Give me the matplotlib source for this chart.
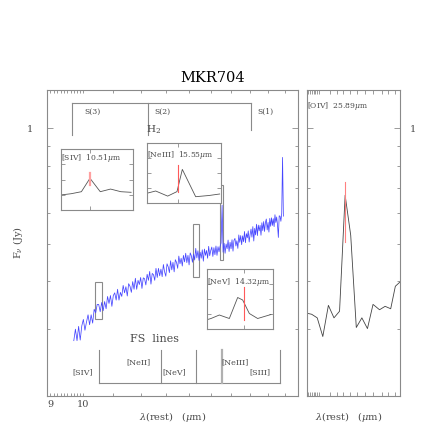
import matplotlib
matplotlib.use('Agg')
import matplotlib.pyplot as plt
import matplotlib.ticker as ticker
from matplotlib.patches import Rectangle

plt.rcParams['font.family'] = ['DejaVu Serif']
plt.rcParams['mathtext.fontset'] = 'dejavuserif'

W = H = 436          # figure size in pixels
GREY = '#8a8a8a'
TEXT = '#4a4a4a'
BLUE = '#4646ff'
RED = '#ff5a5a'

# ── Main spectrum (rest wavelength in micron, flux in Jy) ────────────────────
wave = [9.70, 9.75, 9.80, 9.85, 9.90, 9.95, 10.00, 10.05, 10.10, 10.15,
        10.20, 10.25, 10.30, 10.35, 10.40, 10.45, 10.50, 10.55, 10.60, 10.65,
        10.70, 10.75, 10.80, 10.85, 10.90, 10.95, 11.00, 11.05, 11.10, 11.15,
        11.20, 11.25, 11.30, 11.35, 11.40, 11.45, 11.50, 11.55, 11.60, 11.65,
        11.70, 11.75, 11.80, 11.85, 11.90, 11.95, 12.00, 12.05, 12.10, 12.15,
        12.20, 12.25, 12.30, 12.35, 12.40, 12.45, 12.50, 12.55, 12.60, 12.65,
        12.70, 12.75, 12.80, 12.85, 12.90, 12.95, 13.00, 13.05, 13.10, 13.15,
        13.20, 13.25, 13.30, 13.35, 13.40, 13.45, 13.50, 13.55, 13.60, 13.65,
        13.70, 13.75, 13.80, 13.85, 13.90, 13.95, 14.00, 14.05, 14.10, 14.15,
        14.20, 14.25, 14.30, 14.35, 14.40, 14.45, 14.50, 14.55, 14.60, 14.65,
        14.70, 14.75, 14.80, 14.85, 14.90, 14.95, 15.00, 15.05, 15.10, 15.15,
        15.20, 15.25, 15.30, 15.35, 15.40, 15.45, 15.50, 15.55, 15.60, 15.65,
        15.70, 15.75, 15.80, 15.85, 15.90, 15.95, 16.00, 16.05, 16.10, 16.15,
        16.20, 16.25, 16.30, 16.35, 16.40, 16.45, 16.50, 16.55, 16.60, 16.65,
        16.70, 16.75, 16.80, 16.85, 16.90, 16.95, 17.00, 17.05, 17.10, 17.15,
        17.20, 17.25, 17.30, 17.35, 17.40, 17.45, 17.50, 17.55, 17.60, 17.65,
        17.70, 17.75, 17.80, 17.85, 17.90, 17.95, 18.00, 18.05, 18.10, 18.15,
        18.20, 18.25, 18.30, 18.35, 18.40, 18.45, 18.50, 18.55, 18.60, 18.65,
        18.70, 18.75, 18.80, 18.85, 18.90]
flux = [0.279, 0.299, 0.279, 0.304, 0.280, 0.305, 0.317, 0.297, 0.312, 0.326,
        0.307, 0.326, 0.310, 0.337, 0.330, 0.347, 0.347, 0.332, 0.351, 0.334,
        0.353, 0.338, 0.364, 0.349, 0.366, 0.343, 0.366, 0.372, 0.356, 0.380,
        0.356, 0.373, 0.364, 0.389, 0.372, 0.386, 0.365, 0.393, 0.387, 0.373,
        0.398, 0.380, 0.406, 0.380, 0.401, 0.391, 0.408, 0.382, 0.407, 0.405,
        0.390, 0.416, 0.401, 0.423, 0.392, 0.418, 0.415, 0.401, 0.431, 0.408,
        0.431, 0.412, 0.429, 0.410, 0.441, 0.422, 0.411, 0.443, 0.435, 0.420,
        0.451, 0.427, 0.447, 0.422, 0.454, 0.447, 0.431, 0.464, 0.443, 0.458,
        0.437, 0.466, 0.448, 0.472, 0.446, 0.466, 0.440, 0.473, 0.465, 0.447,
        0.470, 0.453, 0.486, 0.459, 0.479, 0.452, 0.475, 0.458, 0.482, 0.450,
        0.484, 0.466, 0.480, 0.458, 0.492, 0.465, 0.480, 0.490, 0.463, 0.488,
        0.468, 0.493, 0.466, 0.491, 0.476, 0.492, 0.502, 0.630, 0.475, 0.501,
        0.472, 0.499, 0.485, 0.511, 0.477, 0.504, 0.485, 0.512, 0.478, 0.510,
        0.516, 0.493, 0.509, 0.486, 0.527, 0.504, 0.525, 0.497, 0.524, 0.506,
        0.538, 0.503, 0.531, 0.518, 0.540, 0.505, 0.528, 0.546, 0.520, 0.554,
        0.508, 0.548, 0.527, 0.562, 0.525, 0.559, 0.540, 0.558, 0.526, 0.567,
        0.541, 0.571, 0.538, 0.568, 0.580, 0.543, 0.568, 0.536, 0.582, 0.555,
        0.584, 0.558, 0.581, 0.554, 0.595, 0.568, 0.587, 0.559, 0.519, 0.591,
        0.590, 0.572, 0.600, 0.840, 0.590]

# line windows marked on the spectrum: (lambda0, lambda1, flux0, flux1)
box_siv = (10.37, 10.60, 0.317, 0.396)
box_nev = (14.17, 14.44, 0.408, 0.562)
box_neiii = (15.46, 15.61, 0.452, 0.711)

# H2 rotational lines and fine-structure lines
h2_names = ['S(3)', 'S(2)', 'S(1)']
h2_wave = [9.66, 12.28, 17.03]
fs_names = ['[SIV]', '[NeII]', '[NeV]', '[NeIII]', '[SIII]']
fs_wave = [10.51, 12.81, 14.32, 15.55, 18.71]

# ── Line profile insets ──────────────────────────────────────────────────────
siv_wave = [10.34, 10.40, 10.46, 10.51, 10.57, 10.63, 10.69, 10.75]
siv_flux = [0.3374, 0.3380, 0.3390, 0.3456, 0.3390, 0.3403, 0.3390, 0.3387]
neiii_wave = [15.31, 15.38, 15.47, 15.54, 15.58, 15.68, 15.78, 15.86]
neiii_flux = [0.482, 0.490, 0.473, 0.488, 0.562, 0.471, 0.475, 0.480]
nev_wave = [14.10, 14.12, 14.17, 14.23, 14.28, 14.31, 14.35, 14.40, 14.44, 14.48]
nev_flux = [0.419, 0.421, 0.428, 0.421, 0.463, 0.458, 0.431, 0.421, 0.425, 0.429]

# [OIV] profile (right panel)
oiv_wave = [25.48, 25.53, 25.59, 25.65, 25.71, 25.77, 25.83, 25.89, 25.95,
            26.01, 26.07, 26.13, 26.19, 26.26, 26.32, 26.38, 26.43, 26.48]
oiv_flux = [0.329, 0.327, 0.320, 0.286, 0.345, 0.320, 0.333, 0.669, 0.526,
            0.302, 0.320, 0.300, 0.347, 0.336, 0.343, 0.338, 0.387, 0.397]


def px_rect(x0, y0, x1, y1):
    """Pixel box (top-left origin) -> figure fraction rect."""
    return [x0 / W, 1 - y1 / H, (x1 - x0) / W, (y1 - y0) / H]


def style(ax, major_len=4, minor_len=2.5):
    for s in ax.spines.values():
        s.set_edgecolor(GREY)
        s.set_linewidth(0.8)
    ax.tick_params(which='both', direction='in', top=True, right=True,
                   color=GREY, labelcolor=TEXT, width=0.6, labelsize=7)
    ax.tick_params(which='major', length=major_len)
    ax.tick_params(which='minor', length=minor_len)


fig = plt.figure(figsize=(W / 100, H / 100), dpi=100)

# ── Main panel ───────────────────────────────────────────────────────────────
ax = fig.add_axes(px_rect(47, 90, 298, 396))
ax.set_xscale('log')
ax.set_yscale('log')
ax.set_xlim(8.907, 19.8)
ax.set_ylim(0.2, 1.26)
style(ax)
ax.xaxis.set_major_locator(ticker.FixedLocator([9, 10]))
ax.xaxis.set_major_formatter(ticker.FixedFormatter(['9', '10']))
ax.xaxis.set_minor_locator(ticker.FixedLocator(
    [9.1, 9.2, 9.3, 9.4, 9.5, 9.6, 9.7, 9.8, 9.9,
     11, 12, 13, 14, 15, 16, 17, 18, 19]))
ax.xaxis.set_minor_formatter(ticker.NullFormatter())
ax.yaxis.set_major_locator(ticker.FixedLocator([1]))
ax.yaxis.set_major_formatter(ticker.FixedFormatter(['1']))
ax.yaxis.set_minor_locator(ticker.FixedLocator(
    [0.2, 0.3, 0.4, 0.5, 0.6, 0.7, 0.8, 0.9]))
ax.yaxis.set_minor_formatter(ticker.NullFormatter())
ax.tick_params(axis='x', which='major', pad=3)
ax.tick_params(axis='y', which='major', pad=10)
ax.tick_params(axis='x', which='major', length=2.5)

ax.plot(wave, flux, color=BLUE, linewidth=0.55, zorder=3)

for (l0, l1, f0, f1) in (box_siv, box_nev, box_neiii):
    ax.add_patch(Rectangle((l0, f0), l1 - l0, f1 - f0, fill=False,
                           edgecolor=GREY, linewidth=0.8, zorder=2))

# H2 bracket along the top
ax.plot([h2_wave[0], h2_wave[-1]], [1.167, 1.167], color=GREY, lw=0.8)
for lam, bottom in zip(h2_wave, [0.96, 0.96, 0.99]):
    ax.plot([lam, lam], [1.167, bottom], color=GREY, lw=0.8)
for name, x in zip(h2_names, [10.31, 12.87, 17.84]):
    ax.text(x, 1.105, name, ha='center', va='center', fontsize=5.5, color=TEXT)
ax.text(12.52, 0.99, r'H$_2$', ha='center', va='center', fontsize=7.5,
        color=TEXT)

# fine-structure line bracket along the bottom
ax.plot([fs_wave[0], fs_wave[-1]], [0.216, 0.216], color=GREY, lw=0.8)
for name, lam in zip(fs_names, fs_wave):
    heavy = name == '[NeIII]'
    ax.plot([lam, lam], [0.216, 0.263], color='#b0b0b0' if heavy else GREY,
            lw=1.6 if heavy else 0.8)
for name, x, y in zip(fs_names, [9.99, 11.92, 13.37, 16.21, 17.55],
                      [0.2306, 0.2448, 0.2306, 0.2448, 0.2306]):
    ax.text(x, y, name, ha='center', va='center', fontsize=5.8, color=TEXT)
ax.text(12.56, 0.282, 'FS  lines', ha='center', va='center', fontsize=8,
        color=TEXT)

ax.set_ylabel(r'F$_\nu$ (Jy)', fontsize=7, color=TEXT)
ax.yaxis.set_label_coords(-0.088, 0.5)
ax.set_xlabel(r'$\lambda$(rest)   ($\mu$m)', fontsize=7, color=TEXT)
ax.xaxis.set_label_coords(0.5, -0.045)

# ── Insets ───────────────────────────────────────────────────────────────────
insets = [
    ((61, 149, 133, 210), siv_wave, siv_flux, (10.341, 10.761),
     (0.330, 0.360), 10.51, (0.3423, 0.3482), r'[SIV]  10.51$\mu$m', 0.86,
     '#ffa0a0', 1.6),
    ((147, 143, 221, 203), neiii_wave, neiii_flux, (15.315, 15.87),
     (0.45, 0.65), 15.55, (0.4877, 0.5765), r'[NeIII]  15.55$\mu$m', 0.80,
     RED, 0.8),
    ((207, 269, 273, 329), nev_wave, nev_flux, (14.096, 14.492),
     (0.40, 0.52), 14.32, (0.418, 0.4846), r'[NeV]  14.32$\mu$m', 0.79,
     RED, 0.8),
]
for (box, lw_, lf_, xl, yl, center, redspan, label, ty, rc, rw) in insets:
    iax = fig.add_axes(px_rect(*box))
    iax.set_xlim(*xl)
    iax.set_ylim(*yl)
    style(iax, major_len=3, minor_len=2)
    iax.set_xticks([center])
    iax.set_yticks([yl[0] + (yl[1] - yl[0]) * f for f in (0.25, 0.5, 0.75)])
    iax.tick_params(labelbottom=False, labelleft=False)
    iax.plot(lw_, lf_, color='#555555', linewidth=0.6)
    iax.plot([center, center], list(redspan), color=rc, linewidth=rw)
    iax.text(0.0, ty, label, transform=iax.transAxes, ha='left', va='center',
             fontsize=5.5, color=TEXT)

# ── Right panel: [OIV] ───────────────────────────────────────────────────────
ax2 = fig.add_axes(px_rect(307, 90, 400, 396))
ax2.set_yscale('log')
ax2.set_xlim(25.48, 26.48)
ax2.set_ylim(0.2, 1.26)
style(ax2)
ax2.xaxis.set_major_locator(ticker.NullLocator())
ax2.xaxis.set_minor_locator(ticker.FixedLocator(
    [25.49, 25.51, 25.53, 25.55, 25.57, 25.59, 25.61, 25.727, 25.799,
     25.867, 25.942, 26.014, 26.103, 26.19, 26.283, 26.351, 26.426]))
ax2.yaxis.set_major_locator(ticker.FixedLocator([1]))
ax2.yaxis.set_major_formatter(ticker.FixedFormatter(['1']))
ax2.yaxis.set_minor_locator(ticker.FixedLocator(
    [0.2, 0.3, 0.4, 0.5, 0.6, 0.7, 0.8, 0.9]))
ax2.yaxis.set_minor_formatter(ticker.NullFormatter())
ax2.tick_params(axis='y', labelleft=False, labelright=True, pad=7)
ax2.tick_params(axis='x', which='minor', length=3)

ax2.plot(oiv_wave, oiv_flux, color='#444444', linewidth=0.6)
ax2.plot([25.89, 25.89], [0.505, 0.725], color='#ff8080', linewidth=0.8)
ax2.text(0.005, 0.948, r'[OIV]  25.89$\mu$m', transform=ax2.transAxes,
         ha='left', va='center', fontsize=5.5, color=TEXT)
ax2.set_xlabel(r'$\lambda$(rest)   ($\mu$m)', fontsize=7, color=TEXT)
ax2.xaxis.set_label_coords(0.45, -0.045)

fig.text(213 / W, 1 - 78 / H, 'MKR704', ha='center', va='center',
         fontsize=10.5, color='black')

fig.savefig('out.png', dpi=100, facecolor='white')
plt.close(fig)
